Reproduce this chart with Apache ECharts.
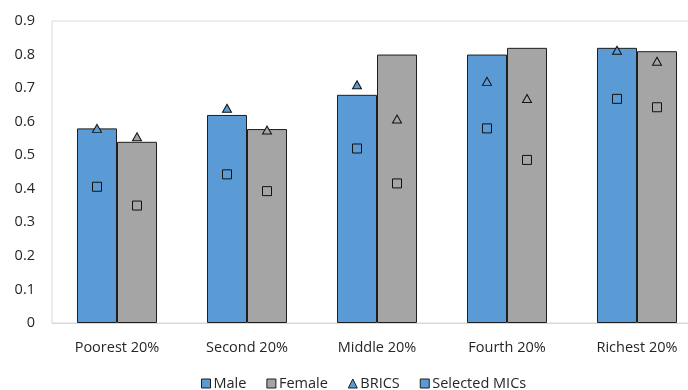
<!DOCTYPE html>
<html>
<head>
<meta charset="utf-8">
<script src="https://cdn.jsdelivr.net/npm/echarts@6/dist/echarts.min.js"></script>
<style>html,body{margin:0;padding:0;background:#fff}#c{width:688px;height:390px}</style>
</head>
<body>
<div id="c"></div>
<script>
const categories = ['Poorest 20%', 'Second 20%', 'Middle 20%', 'Fourth 20%', 'Richest 20%'];
const maleValues = [0.58, 0.62, 0.68, 0.80, 0.82];
const femaleValues = [0.54, 0.578, 0.80, 0.82, 0.81];
const bricsMale = [0.58, 0.64, 0.71, 0.72, 0.813];
const bricsFemale = [0.555, 0.575, 0.608, 0.669, 0.78];
const micsMale = [0.406, 0.443, 0.52, 0.58, 0.668];
const micsFemale = [0.35, 0.393, 0.416, 0.486, 0.643];
const yTicks = [0, 0.1, 0.2, 0.3, 0.4, 0.5, 0.6, 0.7, 0.8, 0.9];

const BLUE = '#5b9bd5', GRAY = '#a5a5a5', EDGE = '#1e1e1e';
const FONT = '"Open Sans", "Noto Sans", sans-serif';

function marker(name, data, symbol, size, fill, dx) {
  return {
    name: name, type: 'scatter', data: data, symbol: symbol, symbolSize: size,
    symbolOffset: [dx, 0], z: 5,
    itemStyle: { color: fill, borderColor: '#111', borderWidth: 1, opacity: 1 },
    emphasis: { disabled: true }, silent: true
  };
}

const chart = echarts.init(document.getElementById('c'), null, { renderer: 'canvas' });
chart.setOption({
  animation: false,
  textStyle: { fontFamily: FONT },
  grid: { left: 52, top: 21, right: -14, bottom: 67, show: true, borderColor: '#d9d9d9', borderWidth: 1,
          containLabel: false, outerBoundsMode: 'none' },
  xAxis: {
    type: 'category', data: categories,
    axisLine: { lineStyle: { color: '#d9d9d9' } },
    axisTick: { show: false },
    axisLabel: { color: '#262626', fontSize: 14.5, fontFamily: FONT, margin: 17 }
  },
  yAxis: {
    type: 'value', min: 0, max: 0.9, interval: 0.1,
    splitLine: { show: false },
    axisLine: { show: false }, axisTick: { show: false },
    axisLabel: {
      color: '#262626', fontSize: 14.5, fontFamily: FONT, margin: 17,
      formatter: function (v) {
        const t = yTicks.reduce((a, b) => Math.abs(b - v) < Math.abs(a - v) ? b : a);
        return t === 0 ? '0' : t.toFixed(1);
      }
    }
  },
  legend: {
    left: 196, top: 371, itemWidth: 9, itemHeight: 9, itemGap: 20,
    textStyle: { color: '#262626', fontSize: 14.5, fontFamily: FONT, padding: [0, 0, 0, -2] },
    data: [
      { name: 'Male', icon: 'rect', itemStyle: { color: BLUE, borderColor: EDGE, borderWidth: 1 } },
      { name: 'Female', icon: 'rect', itemStyle: { color: GRAY, borderColor: EDGE, borderWidth: 1 } },
      { name: 'BRICS', icon: 'triangle', itemStyle: { color: BLUE, borderColor: EDGE, borderWidth: 1 } },
      { name: 'Selected MICs', icon: 'rect', itemStyle: { color: BLUE, borderColor: EDGE, borderWidth: 1 } }
    ]
  },
  series: [
    { name: 'Male', type: 'bar', data: maleValues, barWidth: 40, barGap: '0%',
      itemStyle: { color: BLUE, borderColor: EDGE, borderWidth: 1 }, silent: true },
    { name: 'Female', type: 'bar', data: femaleValues, barWidth: 40, barGap: '0%',
      itemStyle: { color: GRAY, borderColor: EDGE, borderWidth: 1 }, silent: true },
    marker('BRICS', bricsMale, 'triangle', [9, 8], BLUE, -20),
    marker('BRICS', bricsFemale, 'triangle', [9, 8], GRAY, 20),
    marker('Selected MICs', micsMale, 'rect', [9, 9], BLUE, -20),
    marker('Selected MICs', micsFemale, 'rect', [9, 9], GRAY, 20)
  ]
});
</script>
</body>
</html>
